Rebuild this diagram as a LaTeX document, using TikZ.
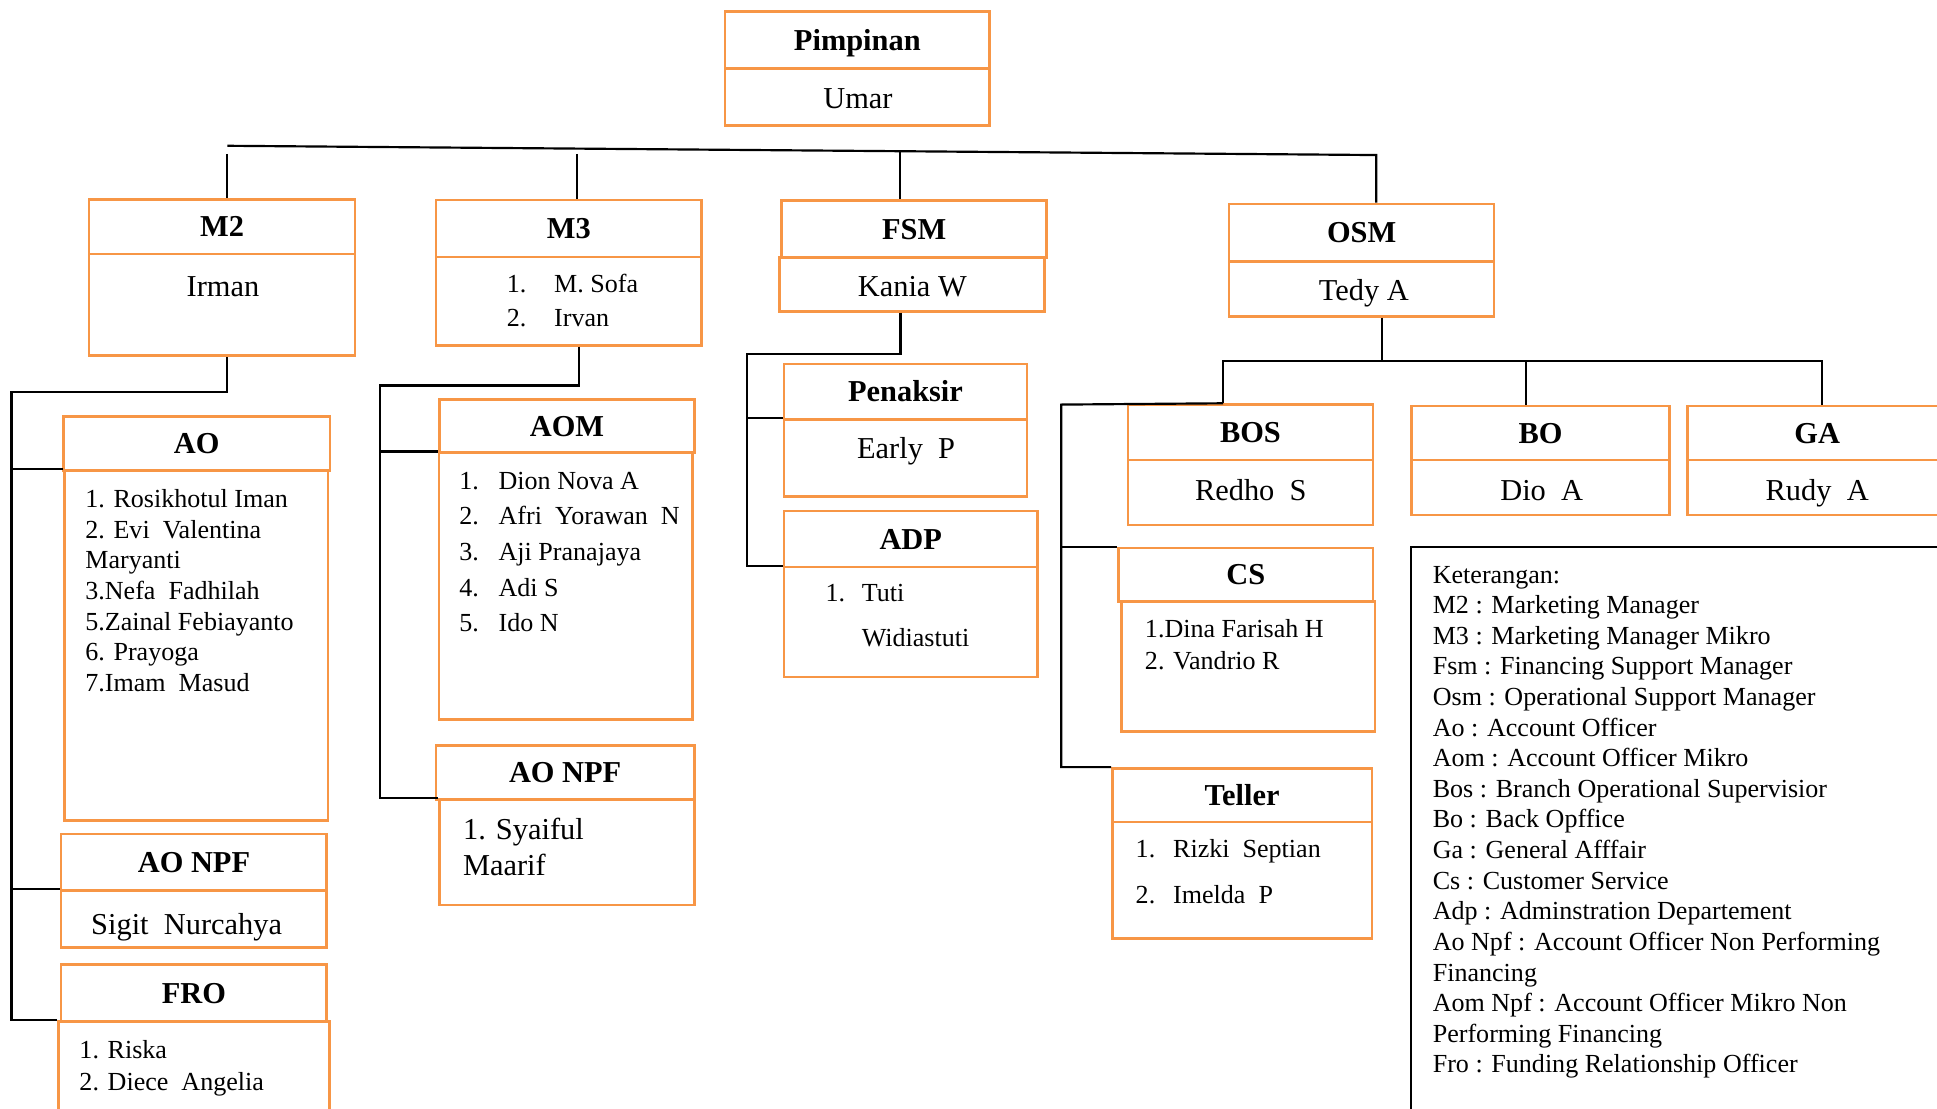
\documentclass[tikz,border=0pt]{standalone}
\usepackage{fontspec}
\setmainfont{Liberation Serif}
\definecolor{boxorange}{RGB}{247,150,70}

\begin{document}
\begin{tikzpicture}[
    head/.style={
        rectangle,
        draw=boxorange,
        line width=1.2pt,
        text height=9.3pt,
        text depth=0pt,
        font=\fontsize{14}{16}\selectfont\bfseries
    },
    body/.style={
        rectangle,
        draw=boxorange,
        line width=1.2pt
    },
    staff/.style={
        anchor=base,
        inner sep=0pt,
        font=\fontsize{14}{16}\selectfont
    },
    list/.style={
        anchor=base west,
        inner sep=0pt
    },
    link/.style={
        line width=1pt,
        black
    }
]

\useasboundingbox (0,0) rectangle (31.36,-17.94);
\clip (0,0) rectangle (31.36,-17.94);

% Pimpinan
\node[head, minimum width=4.28cm, minimum height=0.92cm] (pimH) at (13.88,-0.65) {Pimpinan};
\node[body, minimum width=4.28cm, minimum height=0.92cm] (pimB) at (13.88,-1.57) {};
\node[staff] (pimN) at (13.89,-1.75) {Umar};

% M2
\node[head, minimum width=4.31cm, minimum height=0.88cm] (m2H) at (3.595,-3.67) {M2};
\node[body, minimum width=4.31cm, minimum height=1.65cm] (m2B) at (3.595,-4.935) {};
\node[staff] (m2N) at (3.61,-4.80) {Irman};

% M3
\node[head, minimum width=4.30cm, minimum height=0.92cm] (m3H) at (9.21,-3.70) {M3};
\node[body, minimum width=4.30cm, minimum height=1.43cm] (m3B) at (9.21,-4.875) {};
\node[list, font=\fontsize{12}{15.6}\selectfont] (m3N) at (8.2,-4.74)
    {\begin{tabular}[t]{@{}l@{\hspace{0.45cm}}l@{}}1. & M. Sofa\\ 2. & Irvan\end{tabular}};

% FSM
\node[head, minimum width=4.29cm, minimum height=0.92cm] (fsmH) at (14.80,-3.71) {FSM};
\node[body, minimum width=4.29cm, minimum height=0.87cm] (fsmB) at (14.765,-4.605) {};
\node[staff] (fsmN) at (14.77,-4.80) {Kania W};

% OSM
\node[head, minimum width=4.29cm, minimum height=0.93cm] (osmH) at (22.045,-3.765) {OSM};
\node[body, minimum width=4.29cm, minimum height=0.89cm] (osmB) at (22.045,-4.675) {};
\node[staff] (osmN) at (22.08,-4.87) {Tedy A};

% AO
\node[head, minimum width=4.31cm, minimum height=0.88cm] (aoH) at (3.185,-7.18) {AO};
\node[body, minimum width=4.27cm, minimum height=5.66cm] (aoB) at (3.175,-10.45) {};
\node[list, font=\fontsize{12}{14.1}\selectfont] (aoN) at (1.375,-8.22)
    {\begin{tabular}[t]{@{}l@{}}1. Rosikhotul Iman\\ 2. Evi~ Valentina\\ Maryanti\\ 3.Nefa~ Fadhilah\\ 5.Zainal Febiayanto\\ 6. Prayoga\\ 7.Imam~ Masud\end{tabular}};

% AO NPF (M2)
\node[head, minimum width=4.30cm, minimum height=0.92cm] (anpfH) at (3.14,-13.96) {AO NPF};
\node[body, minimum width=4.30cm, minimum height=0.92cm] (anpfB) at (3.14,-14.88) {};
\node[list, font=\fontsize{14}{16}\selectfont] (anpfN) at (1.47,-15.13) {Sigit~ Nurcahya};

% FRO
\node[head, minimum width=4.30cm, minimum height=0.93cm] (froH) at (3.14,-16.075) {FRO};
\node[body, minimum width=4.39cm, minimum height=1.96cm] (froB) at (3.14,-17.52) {};
\node[list, font=\fontsize{12}{14.8}\selectfont] (froN) at (1.28,-17.13)
    {\begin{tabular}[t]{@{}l@{}}1. Riska\\ 2. Diece~ Angelia\end{tabular}};

% AOM
\node[head, minimum width=4.12cm, minimum height=0.86cm] (aomH) at (9.18,-6.90) {AOM};
\node[body, minimum width=4.10cm, minimum height=4.32cm] (aomB) at (9.16,-9.49) {};
\node[list, font=\fontsize{12}{16.4}\selectfont] (aomN) at (7.43,-7.92)
    {\begin{tabular}[t]{@{}l@{\hspace{0.32cm}}l@{}}1. & Dion Nova A\\ 2. & Afri~ Yorawan~ N\\ 3. & Aji Pranajaya\\ 4. & Adi S\\ 5. & Ido N\end{tabular}};

% AO NPF (M3)
\node[head, minimum width=4.18cm, minimum height=0.87cm] (npfH) at (9.15,-12.505) {AO NPF};
\node[body, minimum width=4.12cm, minimum height=1.71cm] (npfB) at (9.18,-13.795) {};
\node[list, font=\fontsize{14}{16.8}\selectfont] (npfN) at (7.49,-13.59)
    {\begin{tabular}[t]{@{}l@{}}1. Syaiful\\ Maarif\end{tabular}};

% Penaksir
\node[head, minimum width=3.94cm, minimum height=0.90cm] (penH) at (14.66,-6.34) {Penaksir};
\node[body, minimum width=3.94cm, minimum height=1.25cm] (penB) at (14.66,-7.415) {};
\node[staff] (penN) at (14.67,-7.42) {Early~ P};

% ADP
\node[head, minimum width=4.11cm, minimum height=0.91cm] (adpH) at (14.745,-8.725) {ADP};
\node[body, minimum width=4.11cm, minimum height=1.78cm] (adpB) at (14.745,-10.07) {};
\node[list, font=\fontsize{12}{20.9}\selectfont] (adpN) at (13.36,-9.73)
    {\begin{tabular}[t]{@{}l@{\hspace{0.27cm}}l@{}}1. & Tuti\\ & Widiastuti\end{tabular}};

% BOS
\node[head, minimum width=3.97cm, minimum height=0.90cm] (bosH) at (20.245,-7.0) {BOS};
\node[body, minimum width=3.97cm, minimum height=1.05cm] (bosB) at (20.245,-7.975) {};
\node[staff] (bosN) at (20.25,-8.10) {Redho~ S};

% BO
\node[head, minimum width=4.18cm, minimum height=0.88cm] (boH) at (24.94,-7.01) {BO};
\node[body, minimum width=4.18cm, minimum height=0.89cm] (boB) at (24.94,-7.895) {};
\node[staff] (boN) at (24.96,-8.10) {Dio~ A};

% GA
\node[head, minimum width=4.2cm, minimum height=0.88cm] (gaH) at (29.42,-7.01) {GA};
\node[body, minimum width=4.2cm, minimum height=0.89cm] (gaB) at (29.42,-7.895) {};
\node[staff] (gaN) at (29.42,-8.10) {Rudy~ A};

% CS
\node[head, minimum width=4.12cm, minimum height=0.87cm] (csH) at (20.17,-9.305) {CS};
\node[body, minimum width=4.10cm, minimum height=2.10cm] (csB) at (20.21,-10.79) {};
\node[list, font=\fontsize{12}{14.8}\selectfont] (csN) at (18.53,-10.32)
    {\begin{tabular}[t]{@{}l@{}}1.Dina Farisah H\\ 2. Vandrio R\end{tabular}};

% Teller
\node[head, minimum width=4.2cm, minimum height=0.87cm] (tellerH) at (20.11,-12.875) {Teller};
\node[body, minimum width=4.2cm, minimum height=1.88cm] (tellerB) at (20.11,-14.25) {};
\node[list, font=\fontsize{12}{21}\selectfont] (tellerN) at (18.38,-13.89)
    {\begin{tabular}[t]{@{}l@{\hspace{0.29cm}}l@{}}1. & Rizki~ Septian\\ 2. & Imelda~ P\end{tabular}};

% Keterangan
\node[rectangle, draw=black, line width=1pt, minimum width=8.95cm, minimum height=9.44cm] (legend) at (27.325,-13.58) {};
\node[list, font=\fontsize{12}{14.1}\selectfont] (legendN) at (23.19,-9.44)
    {\begin{tabular}[t]{@{}l@{}}Keterangan:\\ M2 : Marketing Manager\\ M3 : Marketing Manager Mikro\\ Fsm : Financing Support Manager\\ Osm : Operational Support Manager\\ Ao : Account Officer\\ Aom : Account Officer Mikro\\ Bos : Branch Operational Supervisior\\ Bo : Back Opffice\\ Ga : General Afffair\\ Cs : Customer Service\\ Adp : Adminstration Departement\\ Ao Npf : Account Officer Non Performing\\ Financing\\ Aom Npf : Account Officer Mikro Non\\ Performing Financing\\ Fro : Funding Relationship Officer\end{tabular}};

% Top bar
\coordinate (barL) at (3.68,-2.36);
\coordinate (barR) at (22.28,-2.51);
\draw[link] (barL) -- (barR) -- (barR |- osmH.north);
\coordinate (m2top) at (3.68,-2.49);
\draw[link] (m2top) -- (m2top |- m2H.north);
\coordinate (m3top) at (9.336,-2.49);
\draw[link] (m3top) -- (m3top |- m3H.north);
\coordinate (fsmtop) at (14.57,-2.45);
\draw[link] (fsmtop) -- (fsmtop |- fsmH.north);

% M2 branch
\coordinate (m2turn) at (3.68,-6.34);
\coordinate (m2rail) at (0.186,-6.34);
\draw[link] (m2turn |- m2B.south) -- (m2turn) -- (m2rail) -- (m2rail |- froB.north west) -- (froB.north west);
\draw[link] (m2rail |- aoB.north west) -- (aoB.north west);
\draw[link] (m2rail |- anpfB.north west) -- (anpfB.north west);

% M3 branch
\coordinate (m3turn) at (9.37,-6.24);
\coordinate (m3rail) at (6.148,-6.24);
\draw[link] (m3turn |- m3B.south) -- (m3turn) -- (m3rail) -- (m3rail |- npfB.north west) -- (npfB.north west);
\draw[link] (m3rail |- aomB.north west) -- (aomB.north west);

% FSM branch
\coordinate (fsmturn) at (14.58,-5.73);
\coordinate (fsmrail) at (12.09,-5.73);
\draw[link] (fsmturn |- fsmB.south) -- (fsmturn) -- (fsmrail) -- (fsmrail |- adpB.north west) -- (adpB.north west);
\draw[link] (fsmrail |- penB.north west) -- (penB.north west);

% OSM branch
\coordinate (osmturn) at (22.38,-5.84);
\coordinate (opsL) at (19.8,-5.84);
\coordinate (opsR) at (29.5,-5.84);
\coordinate (botop) at (24.71,-5.84);
\draw[link] (osmturn |- osmB.south) -- (osmturn);
\draw[link] (opsL |- bosH.north) -- (opsL) -- (opsR) -- (opsR |- gaH.north);
\draw[link] (botop) -- (botop |- boH.north);
\coordinate (bosrail) at (17.18,-6.55);
\draw[link] (opsL |- bosH.north) -- (bosrail) -- (bosrail |- tellerH.north west) -- (tellerH.north west);
\draw[link] (bosrail |- csH.north west) -- (csH.north west);

\end{tikzpicture}
\end{document}
